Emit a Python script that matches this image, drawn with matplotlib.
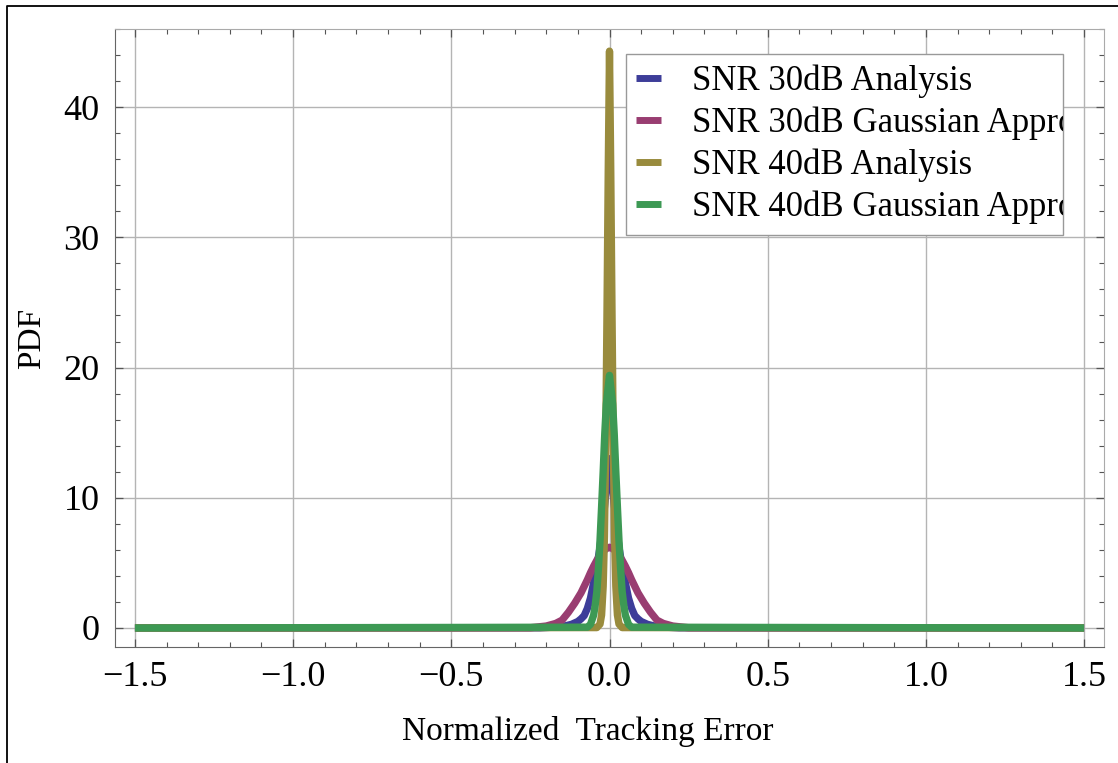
import matplotlib
matplotlib.use("Agg")
import matplotlib.pyplot as plt
from matplotlib.lines import Line2D
from matplotlib.ticker import MultipleLocator, FuncFormatter
from matplotlib.transforms import Bbox, TransformedBbox

# Values (x = normalized tracking error, y = PDF)
x_snr30_analysis = [-1.5, -0.22, -0.15, -0.12, -0.1, -0.09, -0.08, -0.07, -0.06, -0.05, -0.04,
                    -0.03, -0.02, -0.015, -0.01, -0.005, 0.0,
                    0.005, 0.01, 0.015, 0.02, 0.03, 0.04, 0.05, 0.06, 0.07, 0.08,
                    0.09, 0.1, 0.12, 0.15, 0.22, 1.5]
y_snr30_analysis = [0.0, 0.01, 0.1, 0.28, 0.5, 0.7, 0.95, 1.5, 2.3, 3.5, 4.7,
                    6.2, 8.3, 9.5, 10.8, 11.9, 13.0,
                    11.9, 10.8, 9.5, 8.3, 6.2, 4.7, 3.5, 2.3, 1.5, 0.95,
                    0.7, 0.5, 0.28, 0.1, 0.01, 0.0]

x_snr30_gauss = [-1.5, -0.25, -0.2, -0.17, -0.15, -0.13, -0.11, -0.1, -0.09, -0.08, -0.07,
                 -0.06, -0.05, -0.04, -0.03, -0.02, -0.01, 0.0,
                 0.01, 0.02, 0.03, 0.04, 0.05, 0.06, 0.07, 0.08, 0.09, 0.1,
                 0.11, 0.13, 0.15, 0.17, 0.2, 0.25, 1.5]
y_snr30_gauss = [0.0, 0.02, 0.15, 0.35, 0.6, 1.2, 1.9, 2.3, 2.7, 3.2, 3.7,
                 4.25, 4.75, 5.2, 5.6, 5.9, 6.1, 6.2,
                 6.1, 5.9, 5.6, 5.2, 4.75, 4.25, 3.7, 3.2, 2.7, 2.3,
                 1.9, 1.2, 0.6, 0.35, 0.15, 0.02, 0.0]

x_snr40_analysis = [-1.5, -0.04, -0.03, -0.025, -0.02, -0.016, -0.012, -0.008, -0.004, 0.0,
                    0.004, 0.008, 0.012, 0.016, 0.02, 0.025, 0.03, 0.04, 1.5]
y_snr40_analysis = [0.0, 0.03, 0.3, 1.0, 3.2, 7.0, 14.0, 24.0, 35.0, 44.3,
                    35.0, 24.0, 14.0, 7.0, 3.2, 1.0, 0.3, 0.03, 0.0]

x_snr40_gauss = [-1.5, -0.07, -0.06, -0.05, -0.045, -0.04, -0.035, -0.03, -0.025, -0.02,
                 -0.015, -0.01, 0.0, 0.01, 0.015, 0.02, 0.025, 0.03, 0.035, 0.04,
                 0.045, 0.05, 0.06, 0.07, 1.5]
y_snr40_gauss = [0.0, 0.06, 0.28, 1.0, 1.8, 2.8, 4.6, 6.7, 9.3, 12.0,
                 14.9, 17.2, 19.4, 17.2, 14.9, 12.0, 9.3, 6.7, 4.6, 2.8,
                 1.8, 1.0, 0.28, 0.06, 0.0]

labels = ["SNR 30dB Analysis", "SNR 30dB Gaussian Approximation",
          "SNR 40dB Analysis", "SNR 40dB Gaussian Approximation"]
colors = ["#3d3d99", "#993d71", "#998b3d", "#3d9954"]

plt.rcParams["font.family"] = ["Liberation Serif", "DejaVu Serif"]

W, H = 1118, 763
fig = plt.figure(figsize=(W / 100, H / 100), dpi=100)
ax = fig.add_axes([115 / W, 1 - 647 / H, (1104 - 115) / W, (647 - 29) / H])

series = [(x_snr30_analysis, y_snr30_analysis),
          (x_snr30_gauss, y_snr30_gauss),
          (x_snr40_analysis, y_snr40_analysis),
          (x_snr40_gauss, y_snr40_gauss)]
for (xs, ys), lab, col in zip(series, labels, colors):
    ax.plot(xs, ys, color=col, lw=5.3, label=lab, solid_capstyle="butt",
            solid_joinstyle="round", zorder=3)

ax.set_xlim(-1.563, 1.563)
ax.set_ylim(-1.46, 46.0)
ax.xaxis.set_major_locator(MultipleLocator(0.5))
ax.xaxis.set_minor_locator(MultipleLocator(0.1))
ax.yaxis.set_major_locator(MultipleLocator(10))
ax.yaxis.set_minor_locator(MultipleLocator(2))
ax.xaxis.set_major_formatter(FuncFormatter(lambda v, p: f"{v:.1f}".replace("-", "\u2212")))
ax.grid(True, which="major", color="#b4b4b4", lw=1.0, zorder=0)

ax.tick_params(which="both", direction="in", top=True, right=True,
               colors="#555555", labelcolor="black")
ax.tick_params(which="major", length=5.5, width=0.9, labelsize=26)
ax.tick_params(which="minor", length=3.5, width=0.8)
ax.tick_params(axis="x", which="major", pad=10)
ax.tick_params(axis="y", which="major", pad=11)
for side in ["left", "bottom"]:
    ax.spines[side].set_color("#666666")
for side in ["top", "right"]:
    ax.spines[side].set_color("#aaaaaa")

ax.set_xlabel("Normalized  Tracking Error", fontsize=24)
ax.set_ylabel("PDF", fontsize=24)
ax.xaxis.set_label_coords(0.478, -0.112)
ax.yaxis.set_label_coords(-0.069, 0.5)

# legend box sits inside the axes and cuts off the long labels
lx0, lx1 = (626 - 115) / 989, (1063 - 115) / 989
ly0, ly1 = (647 - 230) / 618, (647 - 54) / 618
leg = ax.legend(loc="upper left", bbox_to_anchor=(lx0, ly0, lx1 - lx0, ly1 - ly0),
                mode="expand", borderaxespad=0, fontsize=25, handlelength=0.7,
                handletextpad=0.9, labelspacing=0.25, borderpad=0.3,
                fancybox=False, framealpha=1, edgecolor="#999999")
leg.get_frame().set_linewidth(1.0)
clip = TransformedBbox(Bbox([[lx0, ly0], [lx1, ly1]]), ax.transAxes)
for t in leg.get_texts():
    t.set_clip_box(clip)
    t.set_clip_on(True)
for h in leg.legend_handles:
    h.set_linewidth(5.0)

# outer frame lines seen on left and top of the picture
fig.add_artist(Line2D([7 / W, 7 / W, 1.0], [0.0, 1 - 6 / H, 1 - 6 / H],
                      transform=fig.transFigure, color="black", lw=1.3))

fig.savefig("out.png", dpi=100)
